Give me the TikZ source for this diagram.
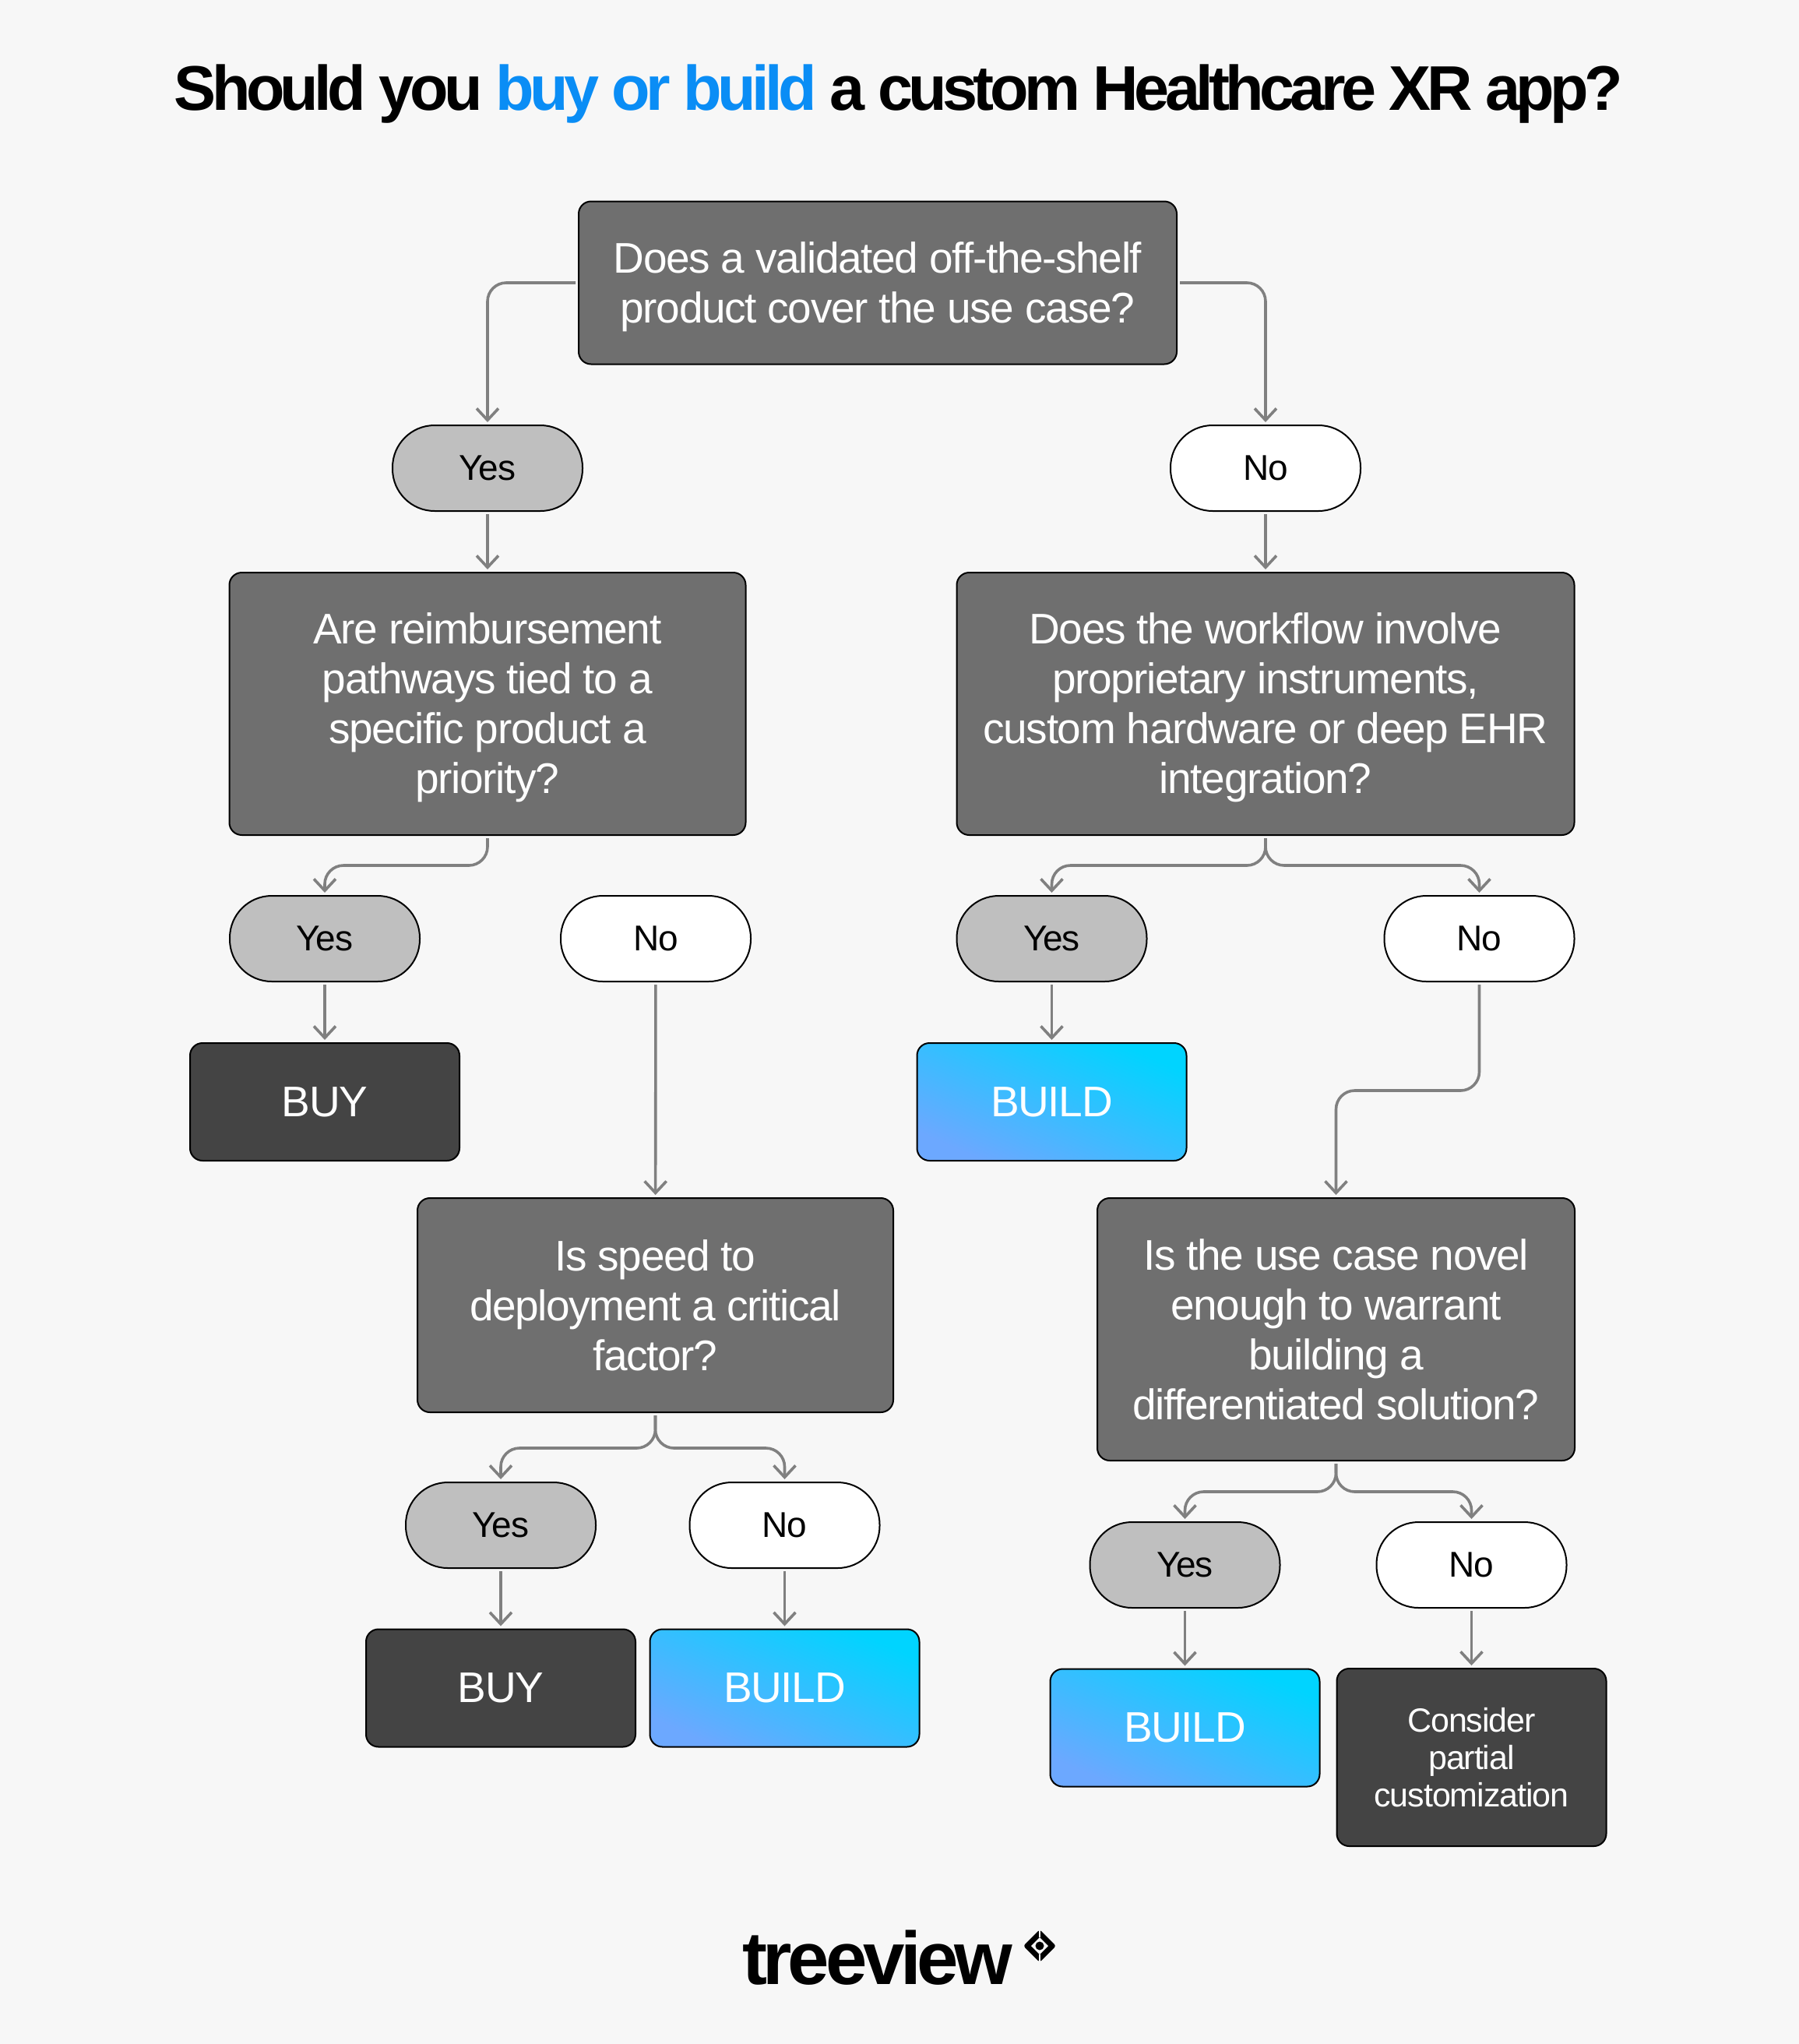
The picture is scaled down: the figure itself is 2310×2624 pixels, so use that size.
\documentclass[tikz,border=0pt]{standalone}
\usepackage{fontspec}
\usepackage{xcolor}
\setmainfont{Liberation Sans}
\newfontfamily\tightfont[LetterSpace=-2.5]{Liberation Sans}
\newfontfamily\titlefont[LetterSpace=-7]{Liberation Sans}
\newfontfamily\logofont[LetterSpace=-5.5]{Liberation Sans}
\newcommand{\dropline}{\rule{0pt}{50pt}}
\usetikzlibrary{arrows.meta,shadings}

\definecolor{bgcol}{HTML}{F7F7F7}
\definecolor{linecol}{HTML}{808080}
\definecolor{questioncol}{HTML}{6F6F6F}
\definecolor{yescol}{HTML}{BFBFBF}
\definecolor{buycol}{HTML}{444444}
\definecolor{titleblue}{HTML}{0A8DF5}
\definecolor{buildlow}{HTML}{6CA8FF}
\definecolor{buildmid}{HTML}{2FC0FF}
\definecolor{buildhigh}{HTML}{00D4FF}

\tikzset{
  outcome/.style   = {draw=black, line width=2pt, rounded corners=16pt, inner sep=0pt, align=center},
  question/.style  = {outcome, fill=questioncol, text=white, font=\tightfont\fontsize{55}{64}\selectfont},
  answer/.style    = {draw=black, line width=2pt, rounded corners=54pt, inner sep=0pt,
                      minimum width=244pt, minimum height=110pt, font=\tightfont\fontsize{46}{54}\selectfont},
  yesanswer/.style = {answer, fill=yescol},
  noanswer/.style  = {answer, fill=white},
  buybox/.style    = {outcome, fill=buycol, text=white, minimum width=346pt, minimum height=151pt,
                      font=\tightfont\fontsize{55}{64}\selectfont},
  buildbox/.style  = {outcome, bottom color=buildlow, middle color=buildmid, top color=buildhigh,
                      shading angle=-24, text=white, minimum width=346pt, minimum height=151pt,
                      font=\tightfont\fontsize{55}{64}\selectfont},
  conn/.style      = {draw=linecol, line width=3.6pt, rounded corners=24pt, shorten <=3pt, shorten >=3pt,
                      -{Straight Barb[length=15pt,width=28pt,line width=3.6pt]}}
}

\begin{document}
\begin{tikzpicture}[x=1pt, y=-1pt]
        \useasboundingbox (0,0) rectangle (2310,2624);
        \fill[bgcol] (0,0) rectangle (2310,2624);

        % Title
        \node[anchor=base, font=\titlefont\bfseries\fontsize{81}{96}\selectfont] (title) at (1154,141)
            {Should you \textcolor{titleblue}{buy or build} a custom Healthcare XR app?};

        % First question
        \node[question, minimum width=768pt, minimum height=209pt] (q1) at (1127,363)
            {\dropline Does a validated off-the-shelf\\product cover the use case?};
        \node[yesanswer] (yes1) at (626,601) {Yes};
        \node[noanswer] (no1) at (1625,601) {No};

        % Second row of questions
        \node[question, minimum width=663pt, minimum height=337pt] (q2) at (626,903.5)
            {\dropline Are reimbursement\\pathways tied to a\\specific product a\\priority?};
        \node[question, minimum width=793pt, minimum height=337pt] (q3) at (1625,903.5)
            {\dropline Does the workflow involve\\proprietary instruments,\\custom hardware or deep EHR\\integration?};

        % Answers under the second row
        \node[yesanswer] (yes2) at (417,1205) {Yes};
        \node[noanswer] (no2) at (842,1205) {No};
        \node[yesanswer] (yes3) at (1350.5,1205) {Yes};
        \node[noanswer] (no3) at (1899.5,1205) {No};
        \node[buybox] (buy1) at (417,1414.5) {BUY};
        \node[buildbox] (build1) at (1350.5,1414.5) {BUILD};

        % Third row of questions
        \node[question, minimum width=611pt, minimum height=275pt] (q4) at (841.5,1675.5)
            {Is speed to\\deployment a critical\\factor?};
        \node[question, minimum width=613pt, minimum height=337pt] (q5) at (1715.5,1706.5)
            {Is the use case novel\\enough to warrant\\building a\\differentiated solution?};

        % Answers and results at the bottom
        \node[yesanswer] (yes4) at (643,1958) {Yes};
        \node[noanswer] (no4) at (1007.5,1958) {No};
        \node[yesanswer] (yes5) at (1521.5,2009) {Yes};
        \node[noanswer] (no5) at (1889.5,2009) {No};
        \node[buybox] (buy2) at (643,2167) {BUY};
        \node[buildbox] (build2) at (1007.5,2167) {BUILD};
        \node[buildbox] (build3) at (1521.5,2218) {BUILD};
        \node[outcome, fill=buycol, text=white, minimum width=346pt, minimum height=228pt,
              font=\tightfont\fontsize{43}{48}\selectfont] (partial) at (1889.5,2256)
            {Consider\\partial\\customization};

        % Connectors
        \draw[conn] (q1.west) -| (yes1.north);
        \draw[conn] (q1.east) -| (no1.north);
        \draw[conn] (yes1) -- (q2);
        \draw[conn] (no1) -- (q3);
        \draw[conn] (q2.south) -- ++(0,38) -| (yes2.north);
        \draw[conn] (q3.south) -- ++(0,38) -| (yes3.north);
        \draw[conn] (q3.south) -- ++(0,38) -| (no3.north);
        \draw[conn] (yes2) -- (buy1);
        \draw[conn] (no2) -- (q4);
        \draw[conn] (yes3) -- (build1);
        \draw[conn] (no3.south) -- ++(0,139) -| (q5.north);
        \draw[conn] (q4.south) -- ++(0,45) -| (yes4.north);
        \draw[conn] (q4.south) -- ++(0,45) -| (no4.north);
        \draw[conn] (q5.south) -- ++(0,39) -| (yes5.north);
        \draw[conn] (q5.south) -- ++(0,39) -| (no5.north);
        \draw[conn] (yes4) -- (buy2);
        \draw[conn] (no4) -- (build2);
        \draw[conn] (yes5) -- (build3);
        \draw[conn] (no5) -- (partial);

        % Logo
        \node[anchor=base west, inner sep=0pt, font=\logofont\bfseries\fontsize{96}{96}\selectfont] (logo) at (953,2547) {treeview};
        \fill[black, rounded corners=3pt] (1335,2477) -- (1356,2498) -- (1335,2519) -- (1314,2498) -- cycle;
        \fill[bgcol] (1335,2487) -- (1346,2498) -- (1335,2509) -- (1324,2498) -- cycle;
        \fill[black] (1335,2498) circle (5.5pt);
        \draw[bgcol, line width=1.5pt] (1335,2475) -- (1335,2487) (1335,2509) -- (1335,2521);
\end{tikzpicture}
\end{document}
